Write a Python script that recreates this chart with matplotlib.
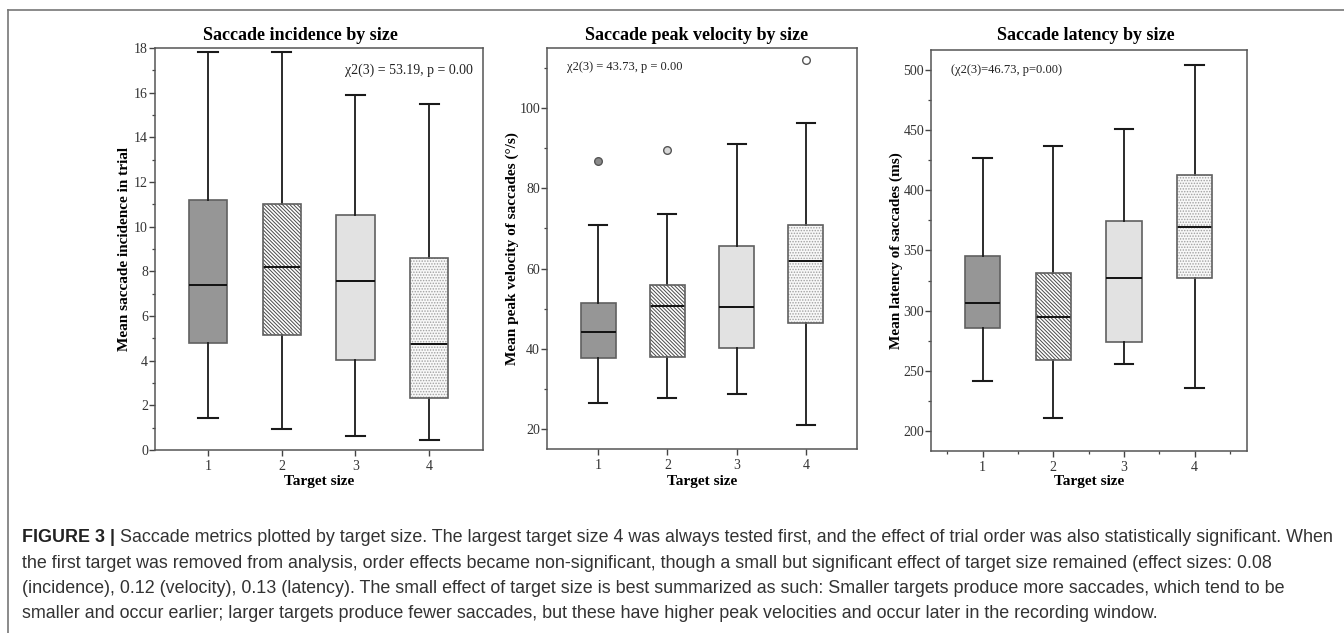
import matplotlib
matplotlib.use("Agg")
import matplotlib.pyplot as plt
from matplotlib.patches import PathPatch
from matplotlib.lines import Line2D
import numpy as np

plt.rcParams['font.family'] = ['Liberation Serif', 'DejaVu Serif']
plt.rcParams['hatch.linewidth'] = 0.7

sizes = ['1', '2', '3', '4']

# Saccade incidence
inc_lo = [1.45, 0.92, 0.63, 0.44]
inc_q1 = [4.78, 5.16, 4.01, 2.34]
inc_med = [7.39, 8.18, 7.57, 4.75]
inc_q3 = [11.19, 11.01, 10.51, 8.60]
inc_hi = [17.84, 17.84, 15.91, 15.51]
inc_out = [[], [], [], []]

# Saccade peak velocity
vel_lo = [26.4, 27.7, 28.6, 21.1]
vel_q1 = [37.8, 37.9, 40.3, 46.5]
vel_med = [44.2, 50.7, 50.4, 61.8]
vel_q3 = [51.5, 56.0, 65.5, 70.8]
vel_hi = [70.8, 73.6, 91.1, 96.2]
vel_out = [[86.9], [89.6], [], [112.1]]

# Saccade latency
lat_lo = [241.3, 210.8, 255.5, 235.8]
lat_q1 = [285.2, 258.8, 273.5, 327.1]
lat_med = [306.5, 294.9, 327.1, 369.3]
lat_q3 = [345.7, 331.5, 374.3, 412.9]
lat_hi = [427.0, 437.3, 450.9, 504.2]
lat_out = [[], [], [], []]

titles = ['Saccade incidence by size', 'Saccade peak velocity by size',
          'Saccade latency by size']
ylabels = ['Mean saccade incidence in trial',
           'Mean peak velocity of saccades (\u00b0/s)',
           'Mean latency of saccades (ms)']
stats_text = ['\u03c72(3) = 53.19, p = 0.00', '\u03c72(3) = 43.73, p = 0.00',
              '(\u03c72(3)=46.73, p=0.00)']

caption_bold = 'FIGURE 3 | '
caption_lines = [
    'Saccade metrics plotted by target size. The largest target size 4 was always tested first, and the effect of trial order was also statistically significant. When',
    'the first target was removed from analysis, order effects became non-significant, though a small but significant effect of target size remained (effect sizes: 0.08',
    '(incidence), 0.12 (velocity), 0.13 (latency). The small effect of target size is best summarized as such: Smaller targets produce more saccades, which tend to be',
    'smaller and occur earlier; larger targets produce fewer saccades, but these have higher peak velocities and occur later in the recording window.',
]

W, H = 1344, 633
fig = plt.figure(figsize=(W / 100, H / 100), dpi=100)


def box_stats(lo, q1, med, q3, hi, out):
    return [dict(whislo=lo[i], q1=q1[i], med=med[i], q3=q3[i], whishi=hi[i],
                 fliers=out[i], label=sizes[i]) for i in range(len(sizes))]


def px_axes(l, t, r, b):
    return fig.add_axes([l / W, 1 - b / H, (r - l) / W, (b - t) / H])


fills = ['#969696', 'white', '#e2e2e2', '#f8f8f8']
hatches = [None, '\\' * 9, None, '.' * 6]
hatch_cols = [None, '#4a4a4a', None, '#a0a0a0']
flier_fill = ['#8a8a8a', '#d8d8d8', 'white', 'white']

panels = [
    dict(rect=(155, 48, 483, 450), ylim=(0, 18), major=2, minor=1,
         stats=box_stats(inc_lo, inc_q1, inc_med, inc_q3, inc_hi, inc_out),
         width=0.52, xlim=(0.28, 4.73), title_x=300, ylab_x=125,
         txt=(345, 70), txt_size=10, xminor=False),
    dict(rect=(547, 48, 857, 449), ylim=(15, 115), major=20, minor=10,
         stats=box_stats(vel_lo, vel_q1, vel_med, vel_q3, vel_hi, vel_out),
         width=0.5, xlim=(0.26, 4.74), title_x=697, ylab_x=512,
         txt=(567, 67), txt_size=9, xminor=False),
    dict(rect=(931, 50, 1247, 451), ylim=(183, 517), major=50, minor=25,
         stats=box_stats(lat_lo, lat_q1, lat_med, lat_q3, lat_hi, lat_out),
         width=0.5, xlim=(0.27, 4.74), title_x=1086, ylab_x=896,
         txt=(951, 70), txt_size=9, xminor=True),
]

for k, p in enumerate(panels):
    l, t, r, b = p['rect']
    ax = px_axes(l, t, r, b)
    res = ax.bxp(p['stats'], positions=range(1, 5), widths=p['width'],
                 capwidths=0.26, patch_artist=True, showfliers=True,
                 boxprops=dict(edgecolor='#606060', linewidth=1.2),
                 whiskerprops=dict(color='#1a1a1a', linewidth=1.3),
                 capprops=dict(color='#1a1a1a', linewidth=1.5),
                 medianprops=dict(color='#111111', linewidth=1.4),
                 flierprops=dict(marker='o', markersize=5.5,
                                 markeredgecolor='#555555',
                                 markeredgewidth=1.0))
    for i, box in enumerate(res['boxes']):
        box.set_facecolor(fills[i])
        if hatches[i]:
            box.set_hatch(hatches[i])
            box.set_edgecolor(hatch_cols[i])
            box.set_linewidth(0)
            ax.add_patch(PathPatch(box.get_path(), facecolor='none',
                                   edgecolor='#606060', linewidth=1.2,
                                   zorder=box.get_zorder() + 0.1))
    for i, fl in enumerate(res['fliers']):
        fl.set_markerfacecolor(flier_fill[i])

    ax.set_xlim(*p['xlim'])
    ax.set_ylim(*p['ylim'])
    ax.set_yticks(np.arange(np.ceil(p['ylim'][0] / p['major']) * p['major'],
                            p['ylim'][1] + 0.01, p['major']))
    ax.set_yticks(np.arange(np.ceil(p['ylim'][0] / p['minor']) * p['minor'],
                            p['ylim'][1] + 0.01, p['minor']), minor=True)
    ax.set_xticks(range(1, 5), sizes)
    if p['xminor']:
        ax.set_xticks(np.arange(0.5, 4.6, 1.0), minor=True)
    ax.tick_params(which='major', length=4, width=1.0, color='#444444',
                   labelsize=10, labelcolor='#333333', pad=1)
    ax.tick_params(axis='x', which='major', length=4.5, pad=2.5)
    ax.tick_params(which='minor', length=2.2, width=0.9, color='#444444')
    for s in ax.spines.values():
        s.set_color('#555555')
        s.set_linewidth(1.1)

    fig.text(p['title_x'] / W, 1 - 36 / H, titles[k], ha='center',
             va='center', fontsize=13, fontweight='bold')
    fig.text(p['ylab_x'] / W, 1 - (t + b) / 2 / H, ylabels[k], rotation=90,
             ha='center', va='center', fontsize=11, fontweight='bold')
    fig.text((l + r) / 2 / W, 1 - 482 / H, 'Target size', ha='center',
             va='center', fontsize=11, fontweight='bold')
    fig.text(p['txt'][0] / W, 1 - p['txt'][1] / H, stats_text[k],
             ha='left', va='center', fontsize=p['txt_size'], color='#222222')

# outer frame (top and left edges)
fig.add_artist(Line2D([8 / W, 1], [1 - 10 / H, 1 - 10 / H],
                      color='#777777', linewidth=1.2))
fig.add_artist(Line2D([8 / W, 8 / W], [0, 1 - 10 / H],
                      color='#777777', linewidth=1.2))

# caption
cap_font = ['Liberation Sans', 'DejaVu Sans']
cap_size = 12.9
line_y = [538, 563, 588.5, 614]
fig.canvas.draw()
renderer = fig.canvas.get_renderer()
bold = fig.text(22 / W, 1 - line_y[0] / H, caption_bold, family=cap_font,
                fontsize=cap_size, fontweight='bold', color='#222222',
                va='center', ha='left')
bb = bold.get_window_extent(renderer)
for j, line in enumerate(caption_lines):
    x0 = bb.x1 / W if j == 0 else 22 / W
    fig.text(x0, 1 - line_y[j] / H, line, family=cap_font, fontsize=cap_size,
             color='#333333', va='center', ha='left')

fig.savefig('out.png', dpi=100)
